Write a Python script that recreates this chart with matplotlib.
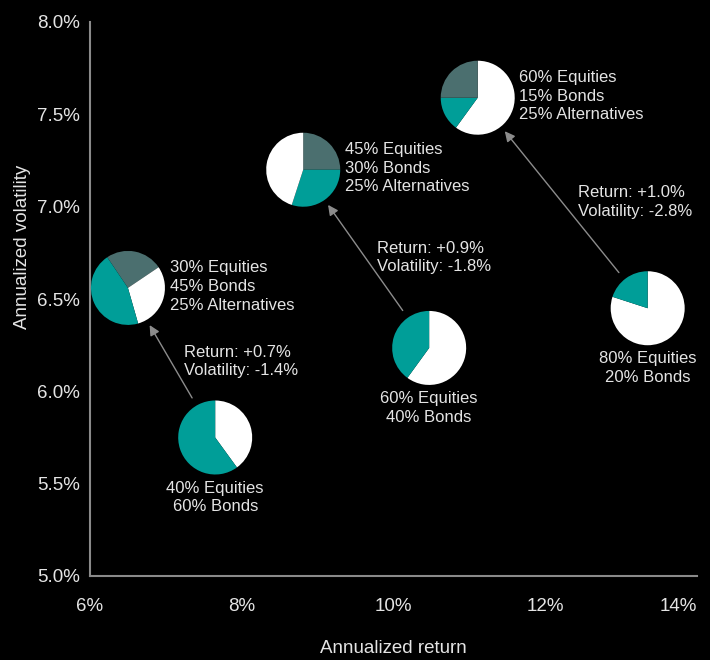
import matplotlib
matplotlib.use("Agg")
import matplotlib.pyplot as plt
from matplotlib.ticker import FuncFormatter

plt.rcParams['font.family'] = ['Liberation Sans', 'DejaVu Sans']

# portfolio points: annualized return (%) vs annualized volatility (%)
returns = [7.65, 6.50, 8.81, 10.47, 11.11, 13.35]
volatility = [5.75, 6.56, 7.20, 6.235, 7.59, 6.45]
equities = [40, 30, 45, 60, 60, 80]
bonds = [60, 45, 30, 40, 15, 20]
alternatives = [0, 25, 25, 0, 25, 0]

# wedge order (0=equities, 1=bonds, 2=alternatives) and start angle per pie
wedge_order = [[0, 1], [2, 0, 1], [2, 1, 0], [0, 1], [0, 1, 2], [0, 1]]
start_angle = [90, 124, 90, 90, 90, 90]
label_side = ['below', 'right', 'right', 'below', 'right', 'below']

# moves between portfolios (from index, to index) and their captions
moves = [(0, 1), (3, 2), (5, 4)]
move_text = ["Return: +0.7%\nVolatility: -1.4%",
             "Return: +0.9%\nVolatility: -1.8%",
             "Return: +1.0%\nVolatility: -2.8%"]
move_text_pos = [(7.24, 6.162), (9.78, 6.725), (12.43, 7.025)]

x_ticks = [6, 8, 10, 12, 14]
y_ticks = [5.0, 5.5, 6.0, 6.5, 7.0, 7.5, 8.0]

colors = ['#ffffff', '#009e98', '#4b6f6f']
names = ['Equities', 'Bonds', 'Alternatives']
text_color = '#e4e4e4'
axis_color = '#8a8a8a'

fig = plt.figure(figsize=(7.1, 6.6), dpi=100, facecolor='black')
ax = fig.add_axes([90 / 710, 84 / 660, 607 / 710, 554 / 660])
ax.set_facecolor('black')
ax.set_xlim(6, 14)
ax.set_ylim(5, 8)
ax.set_xticks(x_ticks)
ax.set_yticks(y_ticks)
ax.xaxis.set_major_formatter(FuncFormatter(lambda v, p: f"{v:.0f}%"))
ax.yaxis.set_major_formatter(FuncFormatter(lambda v, p: f"{v:.1f}%"))
ax.tick_params(length=0, labelsize=13.5, labelcolor=text_color)
ax.tick_params(axis='x', pad=16)
ax.tick_params(axis='y', pad=7)
ax.get_xticklabels()[-1].set_horizontalalignment('right')
for s in ['top', 'right']:
    ax.spines[s].set_visible(False)
for s in ['left', 'bottom']:
    ax.spines[s].set_color(axis_color)
    ax.spines[s].set_linewidth(1.5)

ax.set_xlabel("Annualized return", fontsize=13.5, color=text_color)
ax.xaxis.set_label_coords(0.5, -0.115)
ax.set_ylabel("Annualized volatility", fontsize=13.5, color=text_color)
ax.yaxis.set_label_coords(-0.098, 0.594)

# pies drawn in small inset axes centred on each point
r_px = 37
w = 2 * r_px / 607
h = 2 * r_px / 554
for i in range(len(returns)):
    fx = (returns[i] - 6) / 8
    fy = (volatility[i] - 5) / 3
    sub = ax.inset_axes([fx - w / 2, fy - h / 2, w, h])
    shares = [equities[i], bonds[i], alternatives[i]]
    vals = [shares[k] for k in wedge_order[i]]
    cols = [colors[k] for k in wedge_order[i]]
    sub.pie(vals, colors=cols, startangle=start_angle[i], counterclock=False,
            wedgeprops={'linewidth': 0})
    sub.set_xlim(-1, 1)
    sub.set_ylim(-1, 1)
    sub.axis('off')

    lines = [f"{shares[k]}% {names[k]}" for k in range(3) if shares[k] > 0]
    label = "\n".join(lines)
    if label_side[i] == 'right':
        ax.annotate(label, (returns[i], volatility[i]), xytext=(30, 1),
                    textcoords='offset points', ha='left', va='center',
                    fontsize=12, color=text_color, linespacing=1.3)
    else:
        ax.annotate(label, (returns[i], volatility[i]), xytext=(0, -31),
                    textcoords='offset points', ha='center', va='top',
                    fontsize=12, color=text_color, linespacing=1.3)

for (a, b), txt, pos in zip(moves, move_text, move_text_pos):
    ax.annotate("", xy=(returns[b], volatility[b]),
                xytext=(returns[a], volatility[a]),
                arrowprops=dict(arrowstyle='-|>', color='#8c8c8c', lw=1,
                                mutation_scale=15, shrinkA=33, shrinkB=31))
    ax.text(pos[0], pos[1], txt, ha='left', va='center', fontsize=12,
            color=text_color, linespacing=1.3)

fig.savefig("out.png", dpi=100, facecolor='black')
